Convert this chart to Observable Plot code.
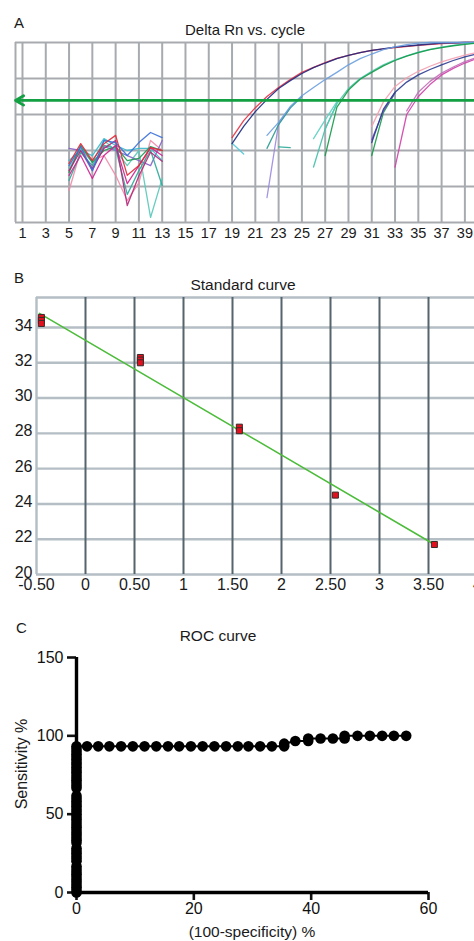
<!DOCTYPE html>
<html><head><meta charset="utf-8">
<script src="https://cdn.jsdelivr.net/npm/d3@7"></script>
<script src="https://cdn.jsdelivr.net/npm/@observablehq/plot@0.6"></script>
<style>
  body { margin: 0; background: #fff; }
  #fig { position: relative; width: 474px; height: 941px; overflow: hidden; background: #fff;
         font-family: "Liberation Sans", Arial, sans-serif; color: #1a1a1a; }
  .lbl { position: absolute; line-height: 1; white-space: nowrap; }
  .ctr { transform: translateX(-50%); }
  .panel { position: absolute; left: 0; }
</style>
</head><body>
<div id="fig">
  <div class="lbl" style="left:14px;top:15px;font-size:15px">A</div>
  <div class="lbl ctr" style="left:245px;top:22px;font-size:15px">Delta Rn vs. cycle</div>
  <div class="panel" id="pa" style="top:36px"></div>

  <div class="lbl" style="left:14px;top:270px;font-size:15px">B</div>
  <div class="lbl ctr" style="left:243px;top:277px;font-size:15.5px">Standard curve</div>
  <div class="panel" id="pb" style="top:295px"></div>

  <div class="lbl" style="left:16px;top:620px;font-size:15px">C</div>
  <div class="lbl ctr" style="left:218px;top:628px;font-size:15.5px">ROC curve</div>
  <div class="panel" id="pc" style="top:640px"></div>
  <div class="lbl ctr" style="left:252px;top:924px;font-size:15.5px">(100-specificity) %</div>
  <div class="lbl" style="left:22px;top:764px;font-size:16px;transform:translate(-50%,-50%) rotate(-90deg)">Sensitivity %</div>
</div>
<script>
const FONT = '"Liberation Sans", Arial, sans-serif';

// ---------- Panel A: Delta Rn vs. cycle ----------
const cycleDomain = [0.4, 41.2];
const cycleTicks = [1,3,5,7,9,11,13,15,17,19,21,23,25,27,29,31,33,35,37,39,41];
const rnTicks = [0,1,2,3,4,5];
const thresholdValue = [3.39];

const noiseCycles = [5,6,7,8,9,10,11,12,13];
const noiseRed      = [1.64,2.19,1.72,2.19,2.42,1.31,1.58,2.08,2.00];
const noiseBlue     = [1.58,2.11,1.44,2.28,2.22,1.86,2.22,2.50,2.36];
const noiseMagenta  = [1.31,1.86,1.22,1.86,2.14,1.08,1.58,2.08,1.86];
const noiseTeal     = [1.17,1.94,1.58,2.14,2.06,0.78,1.44,2.00,1.03];
const noiseCyan     = [1.72,2.00,1.86,2.33,2.14,2.00,2.06,2.06,1.72];
const noiseGreen    = [1.39,2.14,1.67,2.00,2.11,1.72,1.78,2.11,2.00];
const noisePurple   = [2.06,2.00,1.44,2.11,2.00,1.86,1.72,1.58,2.28];
const noisePink     = [0.89,2.00,1.72,1.86,1.31,0.61,1.11,2.28,2.00];
const noiseMint     = [1.50,2.06,1.67,2.28,2.00,1.58,2.00,0.14,1.22];
const noiseDarkMag  = [1.44,2.00,1.50,2.06,2.28,0.47,1.30,1.95,1.70];

const curve1Cycles = [19,20,21,22,23,24,25,26,27,28,29,30,31,33,35,37,39,41];
const curve1Red    = [2.36,2.83,3.19,3.50,3.75,3.97,4.17,4.31,4.44,4.56,4.64,4.72,4.78,4.86,4.92,4.97,5.00,5.00];
const curve1Navy   = [2.19,2.67,3.08,3.42,3.72,3.94,4.14,4.30,4.43,4.55,4.64,4.72,4.78,4.87,4.93,4.98,5.00,5.00];
const cyanStubCycles = [19,20];
const cyanStub       = [2.20,1.90];

const curve2Cycles    = [22,23,24,25,26,27,28,29,30,31,32,33,34,35,36,38,41];
const curve2LightBlue = [2.42,2.78,3.22,3.52,3.75,3.97,4.17,4.38,4.55,4.68,4.80,4.88,4.94,4.98,5.00,5.00,5.00];
const curve2TealCycles = [22,23,24,25];
const curve2Teal       = [2.06,2.72,3.18,3.50];
const curve2PurpleCycles = [22,23,24];
const curve2Purple       = [0.69,2.75,3.20];
const curve2StubCycles = [23,24];
const curve2Stub       = [2.10,2.08];

const curve3Cycles = [27,28,29,30,31,32,33,34,35,36,37,38,39,40,41];
const curve3Green  = [1.86,3.20,3.68,3.98,4.17,4.35,4.50,4.62,4.72,4.80,4.86,4.91,4.95,4.98,5.00];
const curve3Mint   = [2.60,3.30,3.72,4.00,4.20,4.38,4.52,4.63,4.73,4.81,4.87,4.92,4.96,4.99,5.00];
const curve3TealCycles = [26,27,28];
const curve3TealA      = [1.54,2.60,3.30];
const curve3TealB      = [2.33,2.85,3.35];

const curve4Cycles = [31,32,33,34,35,36,37,38,39,40,41];
const curve4Pink   = [2.67,3.35,3.78,4.02,4.20,4.34,4.46,4.56,4.65,4.72,4.78];
const curve4Navy   = [2.22,3.15,3.62,3.90,4.10,4.25,4.38,4.50,4.60,4.68,4.74];
const curve4ShortCycles = [31,32,33];
const curve4Green  = [1.86,3.05,3.60];
const curve4Purple = [2.30,3.10,3.60];

const curve5Cycles  = [33,34,35,36,37,38,39,40,41];
const curve5Magenta = [1.54,3.00,3.50,3.83,4.10,4.28,4.43,4.55,4.64];
const curve5PurpleCycles = [34,35,36,37,38,39,40,41];
const curve5Purple  = [3.10,3.62,3.92,4.15,4.32,4.47,4.58,4.66];

const seriesA = [
  [noiseCycles, noiseMint, "#55c8b8"],
  [noiseCycles, noisePink, "#f08aa8"],
  [noiseCycles, noisePurple, "#8a60c8"],
  [noiseCycles, noiseCyan, "#3ab8cc"],
  [noiseCycles, noiseGreen, "#1a9a50"],
  [noiseCycles, noiseTeal, "#2aa898"],
  [noiseCycles, noiseDarkMag, "#b02878"],
  [noiseCycles, noiseMagenta, "#d02090"],
  [noiseCycles, noiseBlue, "#3a6fd8"],
  [noiseCycles, noiseRed, "#e02838"],
  [cyanStubCycles, cyanStub, "#50c8d8"],
  [curve1Cycles, curve1Red, "#e83040"],
  [curve1Cycles, curve1Navy, "#1c2a80"],
  [curve2PurpleCycles, curve2Purple, "#9a88e0"],
  [curve2StubCycles, curve2Stub, "#2aa898"],
  [curve2TealCycles, curve2Teal, "#2a9a90"],
  [curve2Cycles, curve2LightBlue, "#6a9ee0"],
  [curve3TealCycles, curve3TealA, "#40c0a8"],
  [curve3TealCycles, curve3TealB, "#58d0c0"],
  [curve3Cycles, curve3Mint, "#50c8b0"],
  [curve3Cycles, curve3Green, "#139a48"],
  [curve4ShortCycles, curve4Green, "#139a48"],
  [curve4ShortCycles, curve4Purple, "#7a50c0"],
  [curve4Cycles, curve4Pink, "#f4a0b0"],
  [curve4Cycles, curve4Navy, "#2a3a90"],
  [curve5Cycles, curve5Magenta, "#d040a8"],
  [curve5PurpleCycles, curve5Purple, "#c070b8"]
];

const gridA = "#a7abaf";
const plotA = Plot.plot({
  width: 490, height: 206,
  marginTop: 6, marginBottom: 20, marginLeft: 15, marginRight: 0,
  x: {domain: cycleDomain},
  y: {domain: [rnTicks[0], rnTicks[rnTicks.length - 1]], axis: null},
  style: {fontFamily: FONT, fontSize: "14.5px", maxWidth: "none", overflow: "visible", color: "#1a1a1a"},
  marks: [
    Plot.gridY(rnTicks, {stroke: gridA, strokeWidth: 2, strokeOpacity: 1}),
    Plot.gridX(cycleTicks, {stroke: gridA, strokeWidth: 2, strokeOpacity: 1}),
    Plot.ruleX([cycleDomain[0]], {stroke: gridA, strokeWidth: 2}),
    Plot.axisX(cycleTicks.filter(c => c < 40), {tickSize: 0, tickPadding: 5, fontSize: 14.5, label: null}),
    ...seriesA.map(([cx, vy, col]) =>
      Plot.line(cx.map((c, i) => ({c, v: vy[i]})), {x: "c", y: "v", stroke: col, strokeWidth: 1.3, strokeOpacity: 0.9})),
    Plot.arrow(thresholdValue, {x1: () => cycleDomain[1], x2: () => cycleDomain[0], y1: d => d, y2: d => d,
      stroke: "#12a042", strokeWidth: 2.8, headLength: 5, insetEnd: 0})
  ]
});
document.getElementById("pa").append(plotA);

// ---------- Panel B: Standard curve ----------
const logConc = [-0.45,-0.45,-0.45,0.56,0.56,0.56,1.57,1.57,2.55,3.56];
const ctValues = [34.57,34.40,34.23,32.30,32.15,32.00,28.35,28.15,24.50,21.70];
const fitX = [-0.47, 3.56];
const fitY = [34.80, 21.70];
const concTicks = [-0.5,0,0.5,1,1.5,2,2.5,3,3.5,4,4.5];
const ctTicks = [20,22,24,26,28,30,32,34];
const ctTop = [35.7];

const plotB = Plot.plot({
  width: 526, height: 299,
  marginTop: 2, marginBottom: 20, marginLeft: 36, marginRight: 0,
  x: {domain: [-0.5, 4.5]},
  y: {domain: [20, ctTop[0]]},
  style: {fontFamily: FONT, fontSize: "16px", maxWidth: "none", overflow: "visible", color: "#1a1a1a"},
  marks: [
    Plot.gridY(ctTicks.concat(ctTop), {stroke: "#b4bec4", strokeWidth: 2.4, strokeOpacity: 1}),
    Plot.ruleX([concTicks[0]], {stroke: "#b4bec4", strokeWidth: 2.4}),
    Plot.gridX(concTicks.slice(1), {stroke: "#55646d", strokeWidth: 2, strokeOpacity: 1}),
    Plot.axisY(ctTicks, {tickSize: 0, tickPadding: 4, fontSize: 16, label: null, dy: -2}),
    Plot.axisX(concTicks.filter(d => d <= 4), {tickSize: 0, tickPadding: 4, fontSize: 16, label: null,
      tickFormat: d => d === 0 ? "0" : Number.isInteger(d) ? String(d) : d.toFixed(2)}),
    Plot.line(fitX.map((x, i) => ({x, y: fitY[i]})), {x: "x", y: "y", stroke: "#4cbc3a", strokeWidth: 1.6}),
    Plot.dot(logConc.map((x, i) => ({x, y: ctValues[i]})), {x: "x", y: "y", symbol: "square", r: 3.4,
      fill: "#e2101e", stroke: "#3a2a2a", strokeWidth: 1})
  ]
});
document.getElementById("pb").append(plotB);

// ---------- Panel C: ROC curve ----------
const rocFpr = [
  0,0,0,0,0,0,0,0,0,0,0,0,0,0,0,0,0,0,0,0,0,0,0,0,0,0,0,0,0,0,0,0,0,0,0,0,0,0,0,0,0,0,0,0,0,0,0,0,0,0,0,0,0,
  1.8,3.7,5.6,7.6,9.6,11.6,13.6,15.6,17.5,19.5,21.5,23.5,25.5,27.5,29.3,31.3,33.3,35.4,35.4,37.3,39.5,39.5,
  41.6,43.7,45.7,45.7,47.9,50.0,52.1,54.1,56.2
];
const rocSens = [
  0,1.7,3.3,5,6.7,8.3,10,11.7,13.3,15,16.7,20,21.7,23.3,25,26.7,28.3,31.7,33.3,35,36.7,38.3,40,41.7,43.3,45,
  46.7,48.3,50,51.7,53.3,55,56.7,58.3,60,61.7,66.7,68.3,70,71.7,73.3,75,76.7,78.3,80,81.7,83.3,85,86.7,88.3,90,91.7,93.3,
  93.3,93.3,93.3,93.3,93.3,93.3,93.3,93.3,93.3,93.3,93.3,93.3,93.3,93.3,93.3,93.3,93.3,93.3,95,96.7,96.7,98.3,
  98.3,98.3,98.3,100,100,100,100,100,100
];
const fprTicks = [0,20,40,60];
const sensTicks = [0,50,100,150];
const roc = rocFpr.map((x, i) => ({x, y: rocSens[i]}));

const plotC = Plot.plot({
  width: 474, height: 300,
  marginTop: 17, marginBottom: 48, marginLeft: 76, marginRight: 46,
  x: {domain: [fprTicks[0], fprTicks[fprTicks.length - 1]]},
  y: {domain: [sensTicks[0], sensTicks[sensTicks.length - 1]]},
  style: {fontFamily: FONT, fontSize: "16px", maxWidth: "none", overflow: "visible", color: "#111"},
  marks: [
    Plot.axisY(sensTicks, {tickSize: 9, tickPadding: 4, strokeWidth: 2.6, fontSize: 16, label: null}),
    Plot.axisX(fprTicks, {tickSize: 8, tickPadding: 2, strokeWidth: 2.6, fontSize: 16, label: null}),
    Plot.ruleX([fprTicks[0]], {strokeWidth: 3.4, stroke: "#000"}),
    Plot.ruleY([sensTicks[0]], {strokeWidth: 3.4, stroke: "#000"}),
    Plot.line(roc, {x: "x", y: "y", stroke: "#000", strokeWidth: 2}),
    Plot.dot(roc, {x: "x", y: "y", r: 5.3, fill: "#000"})
  ]
});
document.getElementById("pc").append(plotC);
</script>
</body></html>
